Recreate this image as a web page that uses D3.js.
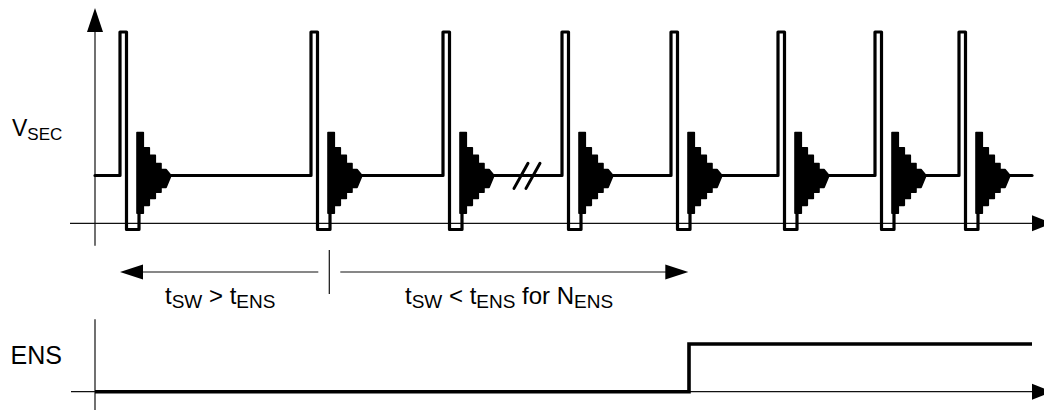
<!DOCTYPE html>
<html><head><meta charset="utf-8">
<script src="https://cdn.jsdelivr.net/npm/d3@7"></script>
<style>html,body{margin:0;padding:0;background:#fff;} svg{display:block;}</style>
</head><body>
<svg id="c" width="1044" height="410"></svg>
<script>
// ---------------- data ----------------
const pulseRise = [25, 216, 348, 467, 576, 683, 780, 864]; // switching edges (time units)
const vLevel = 1.0;          // V_SEC plateau
const pulseHigh = 4.0;       // V_SEC positive peak
const pulseLow = -0.13;      // V_SEC negative level
const pulseOnTime = 6.5;
const pulseOffTime = 12.5;
const ringDelay = 17;
const ringStepTime = [0, 6.3, 12.3, 18.3, 24, 29, 34];
const ringUpper = [1.9, 1.58, 1.42, 1.25, 1.125];
const ringLower = [0.21, 0.375, 0.52, 0.65, 0.75];
const traceEnd = 937;
const breakAt = 432;
const ensTimes = [0, 594, 937];
const ensLevels = [0, 1];
const regionTimes = [25, 234.3, 593.3]; // left arrow tip, divider, right arrow tip
const labelVsec = ["V", "SEC"];
const labelEns = "ENS";
const labelLeft = [["t", false], ["SW", true], [" > t", false], ["ENS", true]];
const labelRight = [["t", false], ["SW", true], [" < t", false], ["ENS", true], [" for N", false], ["ENS", true]];

// ---------------- scales ----------------
const svg = d3.select("#c");
const x = d3.scaleLinear().domain([0, 949]).range([95, 1044]);
const yV = d3.scaleLinear().domain([0, 4]).range([223.3, 32]);
const yE = d3.scaleLinear().domain([0, 1]).range([391.7, 344]);
const FONT = "'Liberation Sans', Arial, Helvetica, sans-serif";
const line = d3.line();

// ---------------- axes ----------------
const axisCol = "#111";
// V_SEC axes
svg.append("line").attr("x1", x(-25)).attr("x2", x(940)).attr("y1", yV(0)).attr("y2", yV(0))
  .attr("stroke", axisCol).attr("stroke-width", 1.2);
svg.append("line").attr("x1", x(0)).attr("x2", x(0)).attr("y1", yV(-0.47)).attr("y2", yV(4.1))
  .attr("stroke", axisCol).attr("stroke-width", 1.2);
svg.append("path").attr("d", line([[x(0), yV(4.5)], [x(0) - 8, yV(4.0)], [x(0) + 8, yV(4.0)]]) + "Z").attr("fill", "#000");
svg.append("path").attr("d", line([[x(957), yV(0)], [x(937), yV(0) - 8], [x(937), yV(0) + 8]]) + "Z").attr("fill", "#000");
// ENS axes
svg.append("line").attr("x1", x(-24)).attr("x2", x(940)).attr("y1", yE(0)).attr("y2", yE(0))
  .attr("stroke", axisCol).attr("stroke-width", 1.2);
svg.append("line").attr("x1", x(0)).attr("x2", x(0)).attr("y1", yE(-0.4)).attr("y2", yE(1.52))
  .attr("stroke", axisCol).attr("stroke-width", 1.2);
svg.append("path").attr("d", line([[x(957), yE(0)], [x(937), yE(0) - 8], [x(937), yE(0) + 8]]) + "Z").attr("fill", "#000");

// ---------------- V_SEC trace ----------------
const ringStart = r => r + ringDelay;
const ringEnd = r => r + ringDelay + ringStepTime[ringStepTime.length - 1];
pulseRise.forEach((r, i) => {
  const prevEnd = i === 0 ? 0 : ringEnd(pulseRise[i - 1]);
  const seg = [[prevEnd, vLevel], [r, vLevel], [r, pulseHigh], [r + pulseOnTime, pulseHigh],
    [r + pulseOnTime, pulseLow], [r + pulseOnTime + pulseOffTime, pulseLow],
    [r + pulseOnTime + pulseOffTime, ringLower[0] + 0.05]];
  svg.append("path").attr("d", line(seg.map(p => [x(p[0]), yV(p[1])])))
    .attr("fill", "none").attr("stroke", "#000").attr("stroke-width", 3.2)
    .attr("stroke-linejoin", "round").attr("stroke-linecap", "round");
  // ringing
  const s = ringStart(r);
  const up = [], lo = [];
  ringUpper.forEach((v, k) => { up.push([s + ringStepTime[k], v], [s + ringStepTime[k + 1], v]); });
  ringLower.forEach((v, k) => { lo.push([s + ringStepTime[k], v], [s + ringStepTime[k + 1], v]); });
  const apex = [s + ringStepTime[ringStepTime.length - 1], vLevel];
  const poly = up.concat([apex]).concat(lo.reverse());
  svg.append("path").attr("d", line(poly.map(p => [x(p[0]), yV(p[1])])) + "Z")
    .attr("fill", "#000").attr("stroke", "#000").attr("stroke-width", 1.6).attr("stroke-linejoin", "round");
});
svg.append("path").attr("d", line([[x(ringEnd(pulseRise[pulseRise.length - 1])), yV(vLevel)], [x(traceEnd), yV(vLevel)]]))
  .attr("fill", "none").attr("stroke", "#000").attr("stroke-width", 3.2).attr("stroke-linecap", "round");

// break marks
[-6, 6].forEach(o => {
  svg.append("line").attr("x1", x(breakAt + o - 7)).attr("y1", yV(0.73))
    .attr("x2", x(breakAt + o + 7)).attr("y2", yV(1.255))
    .attr("stroke", "#000").attr("stroke-width", 3).attr("stroke-linecap", "round");
});

// ---------------- ENS trace ----------------
const ensPts = [[ensTimes[0], ensLevels[0]], [ensTimes[1], ensLevels[0]], [ensTimes[1], ensLevels[1]], [ensTimes[2], ensLevels[1]]];
svg.append("path").attr("d", line(ensPts.map(p => [x(p[0]), yE(p[1])])))
  .attr("fill", "none").attr("stroke", "#000").attr("stroke-width", 3.6).attr("stroke-linejoin", "miter");

// ---------------- annotation ----------------
const ay = 272;
svg.append("line").attr("x1", x(regionTimes[1]) - 11).attr("x2", x(regionTimes[0]) + 20).attr("y1", ay).attr("y2", ay)
  .attr("stroke", axisCol).attr("stroke-width", 1.2);
svg.append("path").attr("d", line([[x(regionTimes[0]), ay], [x(regionTimes[0]) + 23, ay - 7.5], [x(regionTimes[0]) + 23, ay + 7.5]]) + "Z").attr("fill", "#000");
svg.append("line").attr("x1", x(regionTimes[1]) + 11).attr("x2", x(regionTimes[2]) - 20).attr("y1", ay).attr("y2", ay)
  .attr("stroke", axisCol).attr("stroke-width", 1.2);
svg.append("path").attr("d", line([[x(regionTimes[2]), ay], [x(regionTimes[2]) - 23, ay - 7.5], [x(regionTimes[2]) - 23, ay + 7.5]]) + "Z").attr("fill", "#000");
svg.append("line").attr("x1", x(regionTimes[1])).attr("x2", x(regionTimes[1])).attr("y1", 250).attr("y2", 294)
  .attr("stroke", axisCol).attr("stroke-width", 1.2);

// ---------------- text ----------------
function richText(xpos, ypos, parts, fs, subFs, shift) {
  const t = svg.append("text").attr("x", xpos).attr("y", ypos).attr("font-family", FONT)
    .attr("font-size", fs).attr("fill", "#000").style("white-space", "pre");
  let sub = false;
  parts.forEach(([s, isSub]) => {
    const ts = t.append("tspan").text(s);
    if (isSub) ts.attr("font-size", subFs);
    if (isSub && !sub) ts.attr("dy", shift);
    else if (!isSub && sub) ts.attr("dy", -shift);
    sub = isSub;
  });
  return t;
}
richText(12, 136, [[labelVsec[0], false], [labelVsec[1], true]], 23, 17, 3.5);
svg.append("text").attr("x", 10.5).attr("y", 364).attr("font-family", FONT).attr("font-size", 25).text(labelEns);
richText(165, 303.5, labelLeft, 24, 19, 4.5);
richText(405, 303.5, labelRight, 24, 19, 4.5);
</script>
</body></html>
